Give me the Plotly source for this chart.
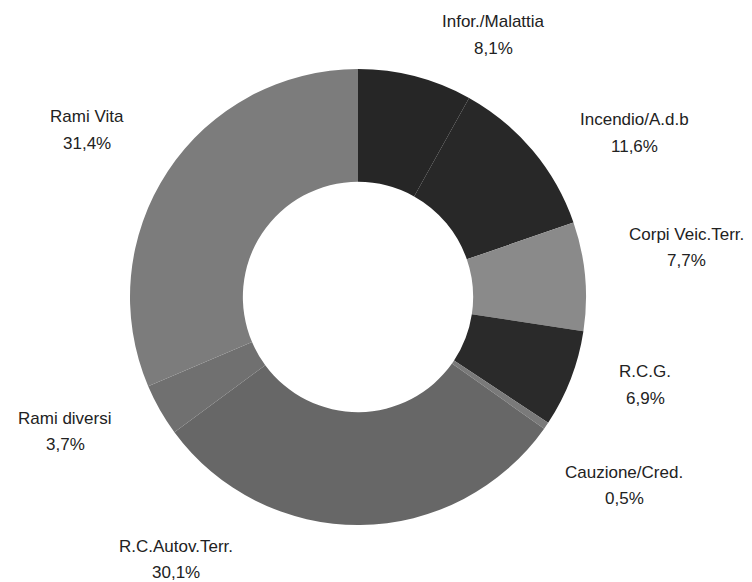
import plotly.graph_objects as go

labels = ["Infor./Malattia", "Incendio/A.d.b", "Corpi Veic.Terr.", "R.C.G.",
          "Cauzione/Cred.", "R.C.Autov.Terr.", "Rami diversi", "Rami Vita"]
values = [8.1, 11.6, 7.7, 6.9, 0.5, 30.1, 3.7, 31.4]
colors = ["#262626", "#282828", "#8a8a8a", "#2a2a2a",
          "#7a7a7a", "#676767", "#707070", "#7c7c7c"]

# label anchor positions in pixels (center x, first-line y)
label_px = [(493, 22), (634, 120), (686, 234), (645, 372),
            (624, 472), (176, 546), (65, 418), (87, 117)]
LINE_GAP = 26
W, H = 752, 582
CX, CY, R = 358, 297, 228

fig = go.Figure(go.Pie(
    labels=labels, values=values, hole=0.505, sort=False,
    direction="clockwise", rotation=0,
    marker=dict(colors=colors, line=dict(color="white", width=0)),
    textinfo="none", hoverinfo="label+percent",
    domain=dict(x=[(CX - R) / W, (CX + R) / W],
                y=[(H - CY - R) / H, (H - CY + R) / H]),
    showlegend=False,
))

ann = []
for lab, val, (px, py) in zip(labels, values, label_px):
    pct = f"{val:.1f}%".replace(".", ",")
    for i, t in enumerate([lab, pct]):
        ann.append(dict(text=t, x=px / W, y=1 - (py + i * LINE_GAP) / H,
                        xref="paper", yref="paper", showarrow=False,
                        xanchor="center", yanchor="middle",
                        font=dict(family="Liberation Sans, Arial, sans-serif",
                                  size=17, color="#222222")))

fig.update_layout(width=W, height=H, margin=dict(l=0, r=0, t=0, b=0),
                  paper_bgcolor="white", plot_bgcolor="white",
                  annotations=ann)
fig.write_html("out.html", config={"displayModeBar": False},
               post_script="document.body.style.margin='0';document.body.style.padding='0';")
